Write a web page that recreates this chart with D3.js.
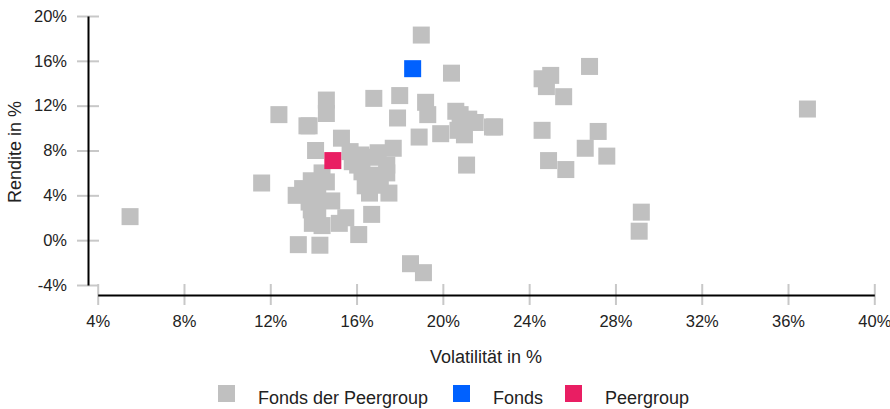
<!DOCTYPE html>
<html lang="de">
<head>
<meta charset="UTF-8">
<title>Rendite / Volatilität</title>
<script src="https://d3js.org/d3.v7.min.js"></script>
<style>
  body { margin: 0; background: #fff; }
  svg text { font-family: "Liberation Sans", Arial, sans-serif; fill: #222; }
  .axis path.domain { stroke: #000; stroke-width: 2; }
  .axis .tick line { stroke: #c8c8c8; stroke-width: 2; }
  .axis .tick text { font-size: 16.5px; }
</style>
</head>
<body>
<svg id="chart"></svg>
<script>
// Volatilität (x) und Rendite (y) in %
const peerVol = [5.5, 11.6, 12.4, 13.7, 13.8, 14.6, 14.6, 13.3, 14.3, 16.1, 14.1, 16.8, 18.0, 19.2, 19.3,
  17.9, 18.9, 19.9, 19.0, 20.4, 21.1, 24.6, 25.0, 24.8, 25.6, 26.8, 24.6, 27.2, 26.6, 27.6, 24.9, 25.7,
  36.9, 29.2, 29.1, 18.5, 19.1, 16.7, 15.5, 15.2, 17.5, 15.3, 20.6, 20.8, 21.2, 21.5, 22.3, 22.4, 20.7, 21.0,
  14.4, 13.9, 13.5, 13.2, 14.6, 14.85, 13.8, 14.2, 14.2, 13.95, 14.4, 13.9, 14.0,
  15.7, 15.8, 16.2, 16.65, 17.0, 17.7, 17.4, 17.4, 16.4, 16.6, 16.25, 16.85, 17.1, 16.05];
const peerRet = [2.1, 5.1, 11.2, 10.2, 10.2, 12.5, 11.3, -0.4, -0.45, 0.5, 8.0, 12.65, 12.9, 12.3, 11.2,
  10.9, 9.2, 9.5, 18.3, 14.9, 6.7, 14.4, 14.7, 13.7, 12.8, 15.5, 9.8, 9.7, 8.2, 7.5, 7.1, 6.3,
  11.7, 2.5, 0.8, -2.1, -2.9, 2.3, 2.0, 1.5, 4.2, 9.1, 11.5, 11.2, 10.8, 10.5, 10.1, 10.1, 9.8, 9.4,
  6.0, 5.3, 4.6, 4.0, 5.2, 3.5, 3.4, 4.0, 2.7, 1.5, 1.3, 2.7, 4.6,
  7.9, 7.0, 7.6, 7.4, 7.8, 8.2, 6.7, 6.0, 4.85, 4.2, 6.1, 5.8, 4.9, 6.7];
const fondsPoint = [18.6, 15.3];
const peergroupPoint = [14.9, 7.1];

const xTicks = [4, 8, 12, 16, 20, 24, 28, 32, 36, 40];
const yTicks = [-4, 0, 4, 8, 12, 16, 20];
const legendLabels = ["Fonds der Peergroup", "Fonds", "Peergroup"];
const colors = ["#c0c0c0", "#0061ff", "#e91e63"];

const w = 890, h = 409;
const svg = d3.select("#chart").attr("width", w).attr("height", h);

const xScale = d3.scaleLinear().domain([4, 40]).range([97.7, 874.3]);
const yScale = d3.scaleLinear().domain([-4, 20]).range([285, 16]);

const xAxis = d3.axisBottom(xScale)
  .tickValues(xTicks)
  .tickSizeOuter(0)
  .tickFormat(d => d + "%");
const yAxis = d3.axisLeft(yScale)
  .tickValues(yTicks)
  .tickSizeOuter(0)
  .tickFormat(d => d + "%");

const gx = svg.append("g")
  .attr("class", "axis")
  .attr("transform", "translate(0,295)")
  .call(xAxis);
gx.selectAll(".tick line").attr("y1", -11).attr("y2", 10);
gx.selectAll(".tick text").attr("y", 20).attr("dy", "0.71em");
gx.select(".domain").raise();

const gy = svg.append("g")
  .attr("class", "axis")
  .attr("transform", "translate(88,0)")
  .call(yAxis);
gy.selectAll(".tick line").attr("x1", -11).attr("x2", 11);
gy.selectAll(".tick text").attr("x", -21);
gy.select(".domain").raise();

// Achsentitel
svg.append("text")
  .attr("x", 486)
  .attr("y", 363)
  .attr("text-anchor", "middle")
  .style("font-size", "18px")
  .text("Volatilität in %");

svg.append("text")
  .attr("transform", "rotate(-90)")
  .attr("x", -152)
  .attr("y", 21)
  .attr("text-anchor", "middle")
  .style("font-size", "18px")
  .text("Rendite in %");

const size = 17;
const peers = d3.zip(peerVol, peerRet);

svg.append("g")
  .selectAll("rect")
  .data(peers)
  .enter()
  .append("rect")
  .attr("x", d => xScale(d[0]) - size / 2)
  .attr("y", d => yScale(d[1]) - size / 2)
  .attr("width", size)
  .attr("height", size)
  .attr("fill", colors[0]);

svg.append("g")
  .selectAll("rect")
  .data([fondsPoint, peergroupPoint])
  .enter()
  .append("rect")
  .attr("x", d => xScale(d[0]) - size / 2)
  .attr("y", d => yScale(d[1]) - size / 2)
  .attr("width", size)
  .attr("height", size)
  .attr("fill", (d, i) => colors[i + 1]);

// Legende
const legendX = [218, 453, 565];
const legend = svg.append("g");
legendLabels.forEach((label, i) => {
  legend.append("rect")
    .attr("x", legendX[i])
    .attr("y", 385)
    .attr("width", size)
    .attr("height", size)
    .attr("fill", colors[i]);
  legend.append("text")
    .attr("x", legendX[i] + 40)
    .attr("y", 404)
    .style("font-size", "18px")
    .text(label);
});
</script>
</body>
</html>
